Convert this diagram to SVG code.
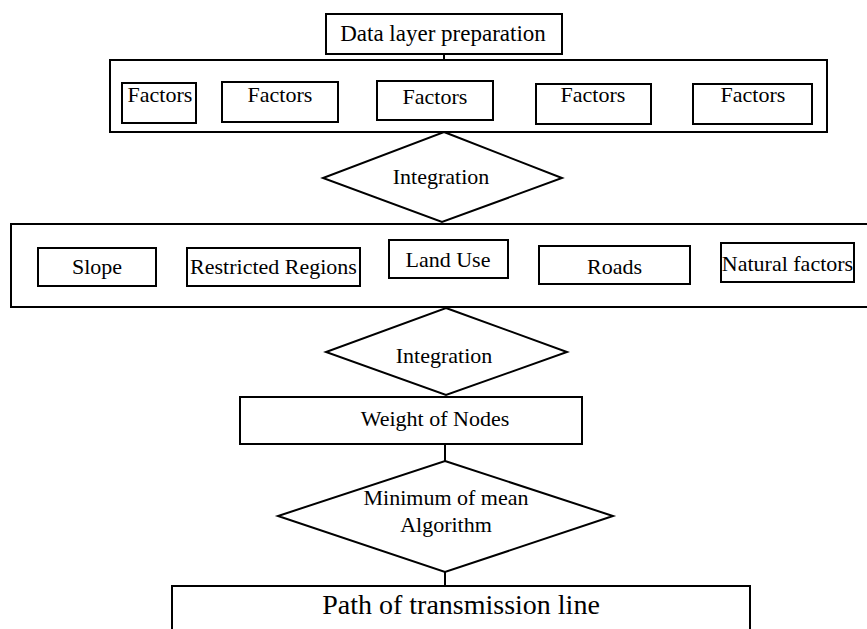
<svg xmlns="http://www.w3.org/2000/svg" width="867" height="629" viewBox="0 0 867 629">
<style>
  .box { fill: #ffffff; stroke: #000000; stroke-width: 2; }
  .dia { fill: #ffffff; stroke: #000000; stroke-width: 2; }
  .ln { stroke: #000000; stroke-width: 2; fill: none; }
  text { font-family: "Liberation Serif", "Times New Roman", serif; font-size: 22px; fill: #000000; text-anchor: middle; }
  .big { font-size: 28px; }
  .t23 { font-size: 23px; }
</style>
<rect width="867" height="629" fill="#ffffff"/>
<g id="connectors">
  <line class="ln" x1="444" y1="54" x2="444" y2="60"/>
  <line class="ln" x1="445" y1="444" x2="445" y2="461"/>
  <line class="ln" x1="445" y1="572" x2="445" y2="586"/>
</g>
<g id="data-layer">
  <rect class="box" x="326" y="14" width="236" height="40"/>
  <text class="t23" x="443" y="41">Data layer preparation</text>
</g>
<g id="factors-group">
  <rect class="box" x="110" y="60" width="717" height="72"/>
</g>
<g id="factor1"><rect class="box" x="122" y="83" width="74" height="40"/><text x="160" y="102">Factors</text></g>
<g id="factor2"><rect class="box" x="222" y="82" width="116" height="40"/><text x="280" y="102">Factors</text></g>
<g id="factor3"><rect class="box" x="377" y="81" width="116" height="39"/><text x="435" y="104">Factors</text></g>
<g id="factor4"><rect class="box" x="536" y="84" width="115" height="40"/><text x="593" y="102">Factors</text></g>
<g id="factor5"><rect class="box" x="693" y="84" width="119" height="40"/><text x="753" y="102">Factors</text></g>
<g id="integration1">
  <polygon class="dia" points="444,132 562,178 442,222 323,178"/>
  <text x="441" y="184">Integration</text>
</g>
<g id="criteria-group">
  <rect class="box" x="11" y="224" width="870" height="83"/>
</g>
<g id="slope"><rect class="box" x="38" y="248" width="118" height="38"/><text x="97" y="274">Slope</text></g>
<g id="restricted"><rect class="box" x="187" y="248" width="173" height="38"/><text x="273.5" y="274">Restricted Regions</text></g>
<g id="landuse"><rect class="box" x="389" y="240" width="119" height="38"/><text x="448" y="267">Land Use</text></g>
<g id="roads"><rect class="box" x="539" y="246" width="151" height="38"/><text x="614.5" y="274">Roads</text></g>
<g id="natural"><rect class="box" x="721" y="243" width="133" height="39"/><text x="787.5" y="271">Natural factors</text></g>
<g id="integration2">
  <polygon class="dia" points="446,308 567,352 446,395 326,352"/>
  <text x="444" y="363">Integration</text>
</g>
<g id="weight">
  <rect class="box" x="240" y="397" width="342" height="47"/>
  <text x="435" y="426">Weight of Nodes</text>
</g>
<g id="algorithm">
  <polygon class="dia" points="445,461 613,516 445,572 278,516"/>
  <text x="446" y="505">Minimum of mean</text>
  <text x="446" y="532">Algorithm</text>
</g>
<g id="path">
  <rect class="box" x="172" y="586" width="578" height="60"/>
  <text class="big" x="461" y="614">Path of transmission line</text>
</g>
</svg>
